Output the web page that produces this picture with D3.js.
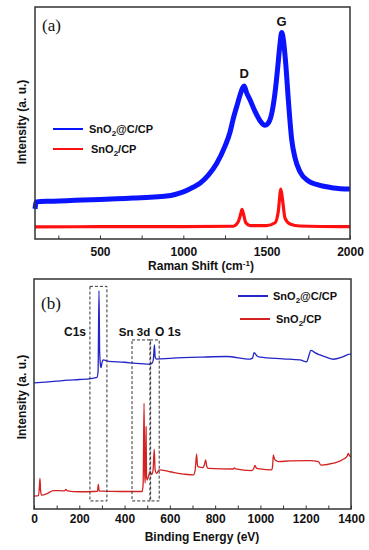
<!DOCTYPE html>
<html>
<head>
<meta charset="utf-8">
<script src="https://cdn.jsdelivr.net/npm/d3@7"></script>
<style>
	body { margin: 0; background: #fff; }
	text { font-family: "Liberation Sans", Arial, sans-serif; font-weight: bold; fill: #111; }
</style>
</head>
<body>
<svg id="chart" width="369" height="550"></svg>
<script>
// Raman spectra, panel (a): [shift cm-1, intensity a.u.]
var ramanBlue = [[110, 13], [118, 16], [200, 16.3], [300, 16.5], [400, 16.8], [500, 17], [600, 17.3], [700, 17.7], [800, 18], [900, 18.5],
	[950, 19.2], [1000, 20.3], [1050, 22], [1100, 24], [1150, 27.5], [1200, 32.5], [1250, 40], [1280, 46], [1300, 52], [1320, 57],
	[1340, 62], [1355, 65], [1365, 66], [1380, 63], [1400, 60], [1430, 55], [1460, 51], [1490, 49], [1510, 50], [1530, 54],
	[1550, 63], [1565, 73], [1580, 84], [1590, 89], [1600, 86], [1615, 75], [1630, 60], [1650, 43], [1670, 35], [1700, 29],
	[1750, 25], [1800, 23.5], [1900, 22], [2000, 21.5]];
var ramanRed = [[110, 5.2], [500, 5.3], [1000, 5.3], [1300, 5.5], [1330, 7.5], [1345, 11], [1352, 12.8], [1360, 11], [1375, 7],
	[1400, 5.8], [1500, 5.8], [1550, 7], [1570, 12], [1585, 21.5], [1595, 17], [1610, 9], [1640, 6.5], [1700, 5.6], [2000, 5.3]];

// XPS survey, panel (b): [binding energy eV, intensity a.u.]
var xpsBlue = [[0, 54.8], [50, 55.2], [100, 55.6], [150, 56], [200, 56.3], [250, 56.7], [278, 57.2], [283, 60], [287, 95], [290, 68],
	[293, 63], [296, 61.5], [300, 63.5], [305, 64.8], [330, 64.2], [400, 63.8], [450, 63.3], [512, 63], [522, 63.5], [527, 65],
	[532, 71.3], [535, 66], [542, 65.2], [600, 65.5], [733, 66], [850, 66.3], [954, 65.2], [965, 65.6], [972, 68], [985, 66.5],
	[998, 66], [1100, 65.3], [1175, 64.8], [1204, 64], [1212, 66], [1223, 69], [1240, 68], [1263, 67], [1290, 66], [1322, 65.1],
	[1360, 66], [1389, 67.2], [1400, 67.5]];
var xpsRed = [[0, 5.6], [20, 5.8], [24, 10], [26.5, 13.3], [29, 8], [34, 6], [60, 6.8], [85, 8], [135, 7.9], [141, 8.5], [147, 7.9],
	[200, 7.5], [261, 7.6], [280, 7.7], [284, 10.7], [288, 7.8], [300, 7.8], [400, 7.6], [478, 7.6], [482, 11], [486, 46],
	[489, 15], [491, 11.3], [493, 20], [495, 35.8], [497, 14], [500, 12.6], [505, 14], [512, 16.2], [520, 15], [526, 17],
	[531, 26], [535, 17], [542, 15.5], [553, 17], [600, 16.2], [660, 15.2], [704, 14.8], [712, 17], [718, 23.9], [722, 19],
	[725, 18.4], [745, 18], [752, 19], [758, 21.3], [763, 18.5], [770, 17.7], [880, 17.4], [885, 17.9], [890, 17.4], [961, 16.7],
	[970, 17.5], [976, 19], [982, 17.8], [998, 17.4], [1050, 17], [1054, 19], [1057, 23.5], [1062, 21.8], [1065, 21.3],
	[1080, 20.6], [1131, 20.9], [1219, 21], [1256, 20.6], [1266, 19.2], [1271, 19.1], [1322, 19.9], [1366, 21.6], [1383, 23],
	[1388, 24.2], [1393, 23.2], [1400, 22.7]];

var ramanTicks = [250, 500, 750, 1000, 1250, 1500, 1750, 2000];
var xpsTicks = d3.range(0, 1401, 100);
var legendNames = ["SnO", "@C/CP", "SnO", "/CP"];
// dashed boxes: [from eV, to eV, top a.u.]
var boxes = [[247, 322, 96.8], [433, 515, 73.5], [512, 553, 73.5]];
var boxLabels = [["C1s", 75], ["Sn 3d", 134.5], ["O 1s", 168]];

var svg = d3.select("#chart");

function panel(opt) {
	var x = d3.scaleLinear().domain(opt.xDomain).range([opt.left, opt.right]);
	var y = d3.scaleLinear().domain([0, 100]).range([opt.bottom, opt.top]);
	var g = svg.append("g");

	var line = d3.line()
		.x(function (d) { return x(d[0]); })
		.y(function (d) { return y(d[1]); })
		.curve(d3.curveMonotoneX);

	opt.series.forEach(function (s) {
		g.append("path")
			.datum(s.data)
			.attr("fill", "none")
			.attr("stroke", s.color)
			.attr("stroke-width", s.width)
			.attr("stroke-linejoin", "round")
			.attr("d", line);
	});

	var axis = d3.axisBottom(x)
		.tickValues(opt.ticks)
		.tickSizeInner(-3.5)
		.tickSizeOuter(0)
		.tickPadding(opt.pad)
		.tickFormat(opt.fmt);
	var ax = g.append("g")
		.attr("transform", "translate(0," + opt.bottom + ")")
		.call(axis);
	ax.select(".domain").remove();
	ax.selectAll("line").attr("stroke", "#333");
	ax.selectAll("text")
		.style("font-family", "'Liberation Sans', Arial, sans-serif")
		.style("font-weight", "bold")
		.style("font-size", "12px")
		.attr("fill", "#111");

	g.append("rect")
		.attr("x", opt.left)
		.attr("y", opt.top)
		.attr("width", opt.right - opt.left)
		.attr("height", opt.bottom - opt.top)
		.attr("fill", "none")
		.attr("stroke", "#333")
		.attr("stroke-width", 1.5);

	g.append("text")
		.attr("transform", "translate(26," + opt.ymid + ") rotate(-90)")
		.attr("text-anchor", "middle")
		.style("font-size", "12px")
		.text("Intensity (a. u.)");

	return { x: x, y: y, g: g };
}

function legendItem(g, x0, x1, ly, color, tx, name, rest) {
	g.append("line")
		.attr("x1", x0).attr("x2", x1)
		.attr("y1", ly).attr("y2", ly)
		.attr("stroke", color)
		.attr("stroke-width", 2);
	var t = g.append("text")
		.attr("x", tx)
		.attr("y", ly + 4)
		.style("font-size", "11px");
	t.append("tspan").text(name);
	t.append("tspan").attr("dy", 3).style("font-size", "8px").text("2");
	t.append("tspan").attr("dy", -3).text(rest);
}

// (a) Raman
var a = panel({
	xDomain: [110, 2000], left: 35, right: 350, top: 7, bottom: 239,
	ticks: ramanTicks, pad: 8, ymid: 122,
	fmt: function (d) { return d % 500 == 0 ? d : ""; },
	series: [
		{ data: ramanRed, color: "#ff1010", width: 3.2 },
		{ data: ramanBlue, color: "#0a14ff", width: 5 }
	]
});
a.g.append("text").attr("x", 201).attr("y", 270).attr("text-anchor", "middle")
	.style("font-size", "12px")
	.text("Raman Shift (cm")
	.append("tspan").attr("dy", -4).style("font-size", "8px").text("-1")
	.select(function () { return this.parentNode; })
	.append("tspan").attr("dy", 4).text(")");
a.g.append("text").attr("x", 42).attr("y", 31)
	.style("font-family", "'Liberation Serif', 'Times New Roman', serif")
	.style("font-weight", "normal").style("font-size", "17px").text("(a)");
a.g.append("text").attr("x", a.x(1365)).attr("y", 78).attr("text-anchor", "middle")
	.style("font-size", "13px").text("D");
a.g.append("text").attr("x", a.x(1590)).attr("y", 26).attr("text-anchor", "middle")
	.style("font-size", "13px").text("G");
legendItem(a.g, 53, 83, 129, "#0a14ff", 89, legendNames[0], legendNames[1]);
legendItem(a.g, 53, 83, 149, "#ff1010", 91, legendNames[2], legendNames[3]);

// (b) XPS
var b = panel({
	xDomain: [0, 1400], left: 34, right: 351, top: 279, bottom: 509,
	ticks: xpsTicks, pad: 5, ymid: 397,
	fmt: function (d) { return d % 200 == 0 ? d : ""; },
	series: [
		{ data: xpsBlue, color: "#2424c8", width: 1.3 },
		{ data: xpsRed, color: "#d42222", width: 1.3 }
	]
});
b.g.append("text").attr("x", 202).attr("y", 541).attr("text-anchor", "middle")
	.style("font-size", "12px").text("Binding Energy (eV)");
b.g.append("text").attr("x", 41).attr("y", 309)
	.style("font-family", "'Liberation Serif', 'Times New Roman', serif")
	.style("font-weight", "normal").style("font-size", "17px").text("(b)");

boxes.forEach(function (bx) {
	b.g.append("rect")
		.attr("x", b.x(bx[0]))
		.attr("y", b.y(bx[2]))
		.attr("width", b.x(bx[1]) - b.x(bx[0]))
		.attr("height", b.y(3.5) - b.y(bx[2]))
		.attr("fill", "none")
		.attr("stroke", "#333")
		.attr("stroke-width", 1)
		.attr("stroke-dasharray", "3,2");
});
boxLabels.forEach(function (l) {
	b.g.append("text").attr("x", l[1]).attr("y", 336).attr("text-anchor", "middle")
		.style("font-size", l[0] == "Sn 3d" ? "11.5px" : "12px").text(l[0]);
});
legendItem(b.g, 238, 268, 296, "#2424c8", 273, legendNames[0], legendNames[1]);
legendItem(b.g, 240, 270, 319, "#d42222", 276, legendNames[2], legendNames[3]);
</script>
</body>
</html>
